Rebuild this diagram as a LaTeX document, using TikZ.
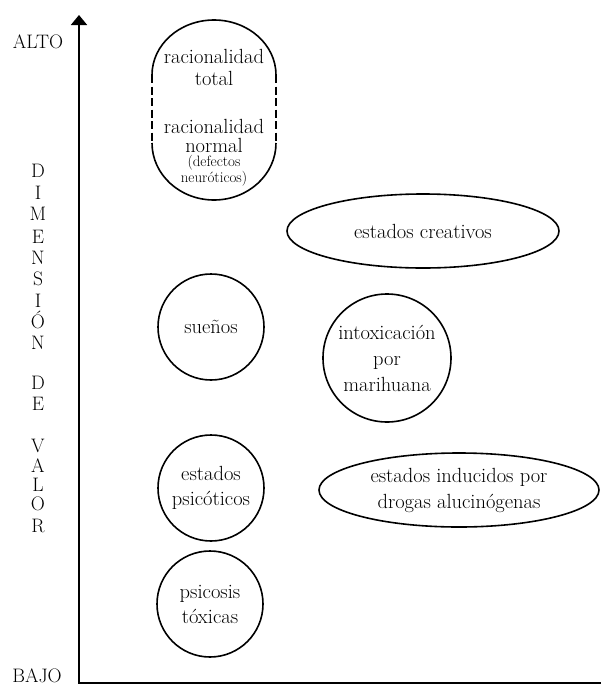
\documentclass[tikz,border=0pt]{standalone}
\usepackage{fontspec}
\usetikzlibrary{arrows.meta,shapes.geometric}
\begin{document}
\begin{tikzpicture}[x=1pt,y=-1pt,
  every node/.style={font=\fontsize{20.5}{25}\selectfont},
  ring/.style={circle,draw,line width=1.6pt,inner sep=0pt,align=center},
  oval/.style={ellipse,draw,line width=1.6pt,inner sep=0pt,align=center},
  axisline/.style={line width=1.8pt},
  outline/.style={line width=1.6pt},
  caplabel/.style={font=\fontsize{19.5}{20}\selectfont,anchor=base,inner sep=0pt},
  linelabel/.style={anchor=base,inner sep=0pt},
  smalllabel/.style={font=\fontsize{15}{13}\selectfont,anchor=north,inner sep=0pt,align=center}]
\useasboundingbox (0,0) rectangle (601,686);

% axes
\coordinate (origin) at (79,683);
\coordinate (axtop) at (79,15);
\coordinate (axright) at (601,683);
\draw[axisline,-{Triangle[width=16pt,length=10pt]}] (axright) -- (origin) -- (axtop);

% axis end labels
\node[caplabel] (alto) at (38,48) {ALTO};
\node[caplabel] (bajo) at (37,682) {BAJO};

% vertical axis title, one letter per line
\foreach \l/\y [count=\i] in {D/170,I/192,M/213,E/236,N/257,S/278,I/300,Ó/321,N/342,D/382,E/403,V/445,A/465,L/484,O/503,R/525}
  \node[caplabel] (dv\i) at (38,\y+7) {\l};

% rationality capsule: solid caps, dashed sides
\draw[outline] (152,75) arc[start angle=180,end angle=360,x radius=62,y radius=55];
\draw[outline] (152,143) arc[start angle=180,end angle=0,x radius=62,y radius=57];
\draw[outline,dash pattern=on 8pt off 3.5pt] (152,75) -- (152,143);
\draw[outline,dash pattern=on 8pt off 3.5pt] (276,75) -- (276,143);
\node[linelabel] (rt1) at (214,63) {racionalidad};
\node[linelabel] (rt2) at (214,85) {total};
\node[linelabel] (rn1) at (214,133) {racionalidad};
\node[linelabel] (rn2) at (214,152) {normal};
\node[smalllabel] (rn3) at (214,155.5) {(defectos\\neuróticos)};

% states
\node[oval,minimum width=272pt,minimum height=74pt] (creativos) at (423,231) {estados creativos};
\node[ring,minimum size=106pt] (suenos) at (211,327) {sueños};
\node[ring,minimum size=128pt,font=\fontsize{20.5}{26}\selectfont] (marihuana) at (387,358) {intoxicación\\por\\marihuana};
\node[ring,minimum size=106pt] (psicoticos) at (211,488) {estados\\psicóticos};
\node[oval,minimum width=280pt,minimum height=74pt,font=\fontsize{20.5}{26}\selectfont] (alucinogenas) at (459,490) {estados inducidos por\\drogas alucinógenas};
\node[ring,minimum size=106pt] (toxicas) at (210,604) {psicosis\\tóxicas};
\end{tikzpicture}
\end{document}
